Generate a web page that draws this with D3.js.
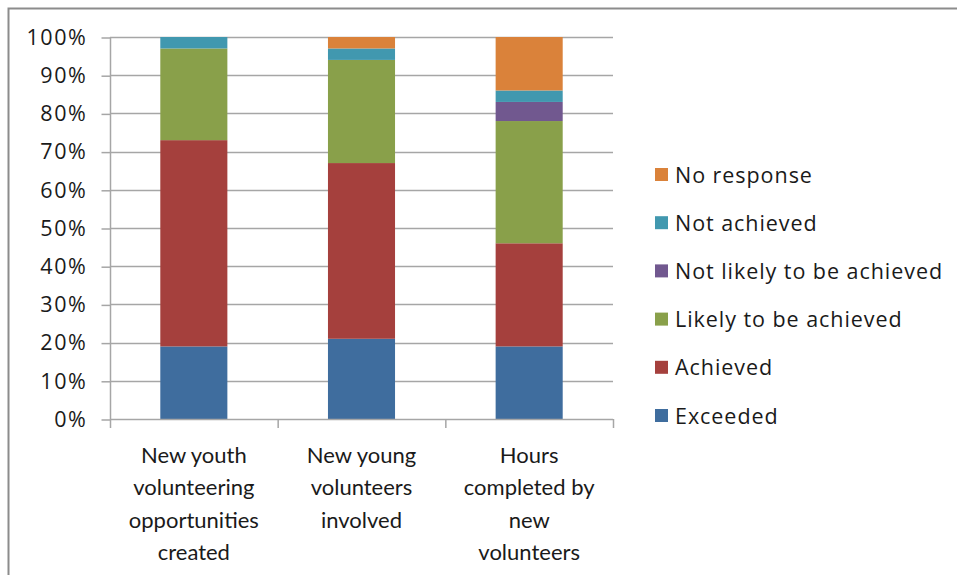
<!DOCTYPE html>
<html>
<head>
<meta charset="utf-8">
<script src="https://cdn.jsdelivr.net/npm/d3@7"></script>
<style>
  html, body { margin: 0; padding: 0; background: #fff; }
  svg text { font-family: "Open Sans", Lato, "Liberation Sans", sans-serif; fill: #1a1a1a; }
</style>
</head>
<body>
<svg id="chart" width="957" height="575"></svg>
<script>
// Categories along the x axis (line-broken as displayed)
const categories = [
  "New youth volunteering opportunities created",
  "New young volunteers involved",
  "Hours completed by new volunteers"
];
const categoryLines = [
  ["New youth", "volunteering", "opportunities", "created"],
  ["New young", "volunteers", "involved"],
  ["Hours", "completed by", "new", "volunteers"]
];

// Series, stacked bottom to top (percent of responses)
const seriesNames = ["Exceeded", "Achieved", "Likely to be achieved", "Not likely to be achieved", "Not achieved", "No response"];
const exceeded      = [19, 21, 19];
const achieved      = [54, 46, 27];
const likely        = [24, 27, 32];
const notLikely     = [0, 0, 5];
const notAchieved   = [3, 3, 3];
const noResponse    = [0, 3, 14];
const seriesColors  = ["#3F6D9E", "#A5403D", "#89A04A", "#71588F", "#4198AF", "#DA823A"];

const yTicks = [0, 10, 20, 30, 40, 50, 60, 70, 80, 90, 100];

const seriesValues = [exceeded, achieved, likely, notLikely, notAchieved, noResponse];
const rows = categories.map((c, i) => {
  const r = { category: c };
  seriesNames.forEach((s, k) => { r[s] = seriesValues[k][i]; });
  return r;
});
const stacked = d3.stack().keys(seriesNames)(rows);

const svg = d3.select("#chart");

// Outer frame
svg.append("rect")
  .attr("x", 8.5).attr("y", 8.5)
  .attr("width", 1000).attr("height", 1000)
  .attr("fill", "none").attr("stroke", "#8c8c8c").attr("stroke-width", 2);

const plot = { left: 110, right: 613, top: 37, bottom: 419 };

const x = d3.scaleBand().domain(categories).range([plot.left, plot.right]).paddingInner(0.6).paddingOuter(0.3);
const y = d3.scaleLinear().domain([0, 100]).range([plot.bottom, plot.top]);
const color = d3.scaleOrdinal().domain(seriesNames).range(seriesColors);

// Horizontal gridlines
svg.append("g").selectAll("line").data(yTicks.filter(t => t > 0)).join("line")
  .attr("x1", plot.left).attr("x2", plot.right)
  .attr("y1", d => Math.round(y(d)) + 0.5).attr("y2", d => Math.round(y(d)) + 0.5)
  .attr("stroke", "#a6a6a6").attr("stroke-width", 1.5);

// Y axis
const yAxis = d3.axisLeft(y).tickValues(yTicks).tickFormat(d => d + "%").tickSize(9).tickPadding(14);
const gy = svg.append("g").attr("transform", `translate(${plot.left + 0.5},0.5)`).call(yAxis);
gy.select(".domain").remove();
gy.selectAll(".tick line").attr("stroke", "#a6a6a6").attr("stroke-width", 1.5);
gy.selectAll(".tick text").attr("font-size", 21.5).attr("fill", "#1a1a1a")
  .attr("letter-spacing", 1.6)
  .style("font-family", "'Open Sans', Lato, sans-serif");
svg.append("line")
  .attr("x1", plot.left + 0.5).attr("x2", plot.left + 0.5)
  .attr("y1", plot.top).attr("y2", plot.bottom + 9)
  .attr("stroke", "#a6a6a6").attr("stroke-width", 1.5);

// Bars
svg.append("g").selectAll("g").data(stacked).join("g")
  .attr("fill", d => color(d.key))
  .selectAll("rect").data(d => d).join("rect")
  .attr("x", d => x(d.data.category))
  .attr("width", x.bandwidth())
  .attr("y", d => y(d[1]))
  .attr("height", d => y(d[0]) - y(d[1]));

// X axis baseline and category dividers
svg.append("line")
  .attr("x1", plot.left).attr("x2", plot.right)
  .attr("y1", plot.bottom + 0.5).attr("y2", plot.bottom + 0.5)
  .attr("stroke", "#a6a6a6").attr("stroke-width", 1.5);
svg.append("g").selectAll("line").data(categories).join("line")
  .attr("x1", (c, i) => plot.left + (i + 1) * (plot.right - plot.left) / categories.length + 0.5)
  .attr("x2", (c, i) => plot.left + (i + 1) * (plot.right - plot.left) / categories.length + 0.5)
  .attr("y1", plot.bottom).attr("y2", plot.bottom + 9)
  .attr("stroke", "#a6a6a6").attr("stroke-width", 1.5);

// Category labels
const labels = svg.append("g").selectAll("text").data(categories).join("text")
  .attr("x", c => x(c) + x.bandwidth() / 2)
  .attr("y", 463)
  .attr("text-anchor", "middle")
  .attr("font-size", 22)
  .style("font-family", "Lato, 'Open Sans', sans-serif");
labels.selectAll("tspan").data((c, i) => categoryLines[i]).join("tspan")
  .attr("x", function () { return d3.select(this.parentNode).attr("x"); })
  .attr("dy", (d, j) => j === 0 ? 0 : 32.3)
  .text(d => d);

// Legend (top to bottom: reverse of stack order)
const legendItems = seriesNames.slice().reverse();
const lg = svg.append("g").selectAll("g").data(legendItems).join("g")
  .attr("transform", (d, i) => `translate(655,${175 + i * 48.2})`);
lg.append("rect").attr("x", 0).attr("y", -7).attr("width", 13).attr("height", 13).attr("fill", d => color(d));
lg.append("text").attr("x", 20).attr("y", 0).attr("dy", "0.35em").attr("font-size", 21.5)
  .attr("letter-spacing", 0.95).text(d => d);
</script>
</body>
</html>
